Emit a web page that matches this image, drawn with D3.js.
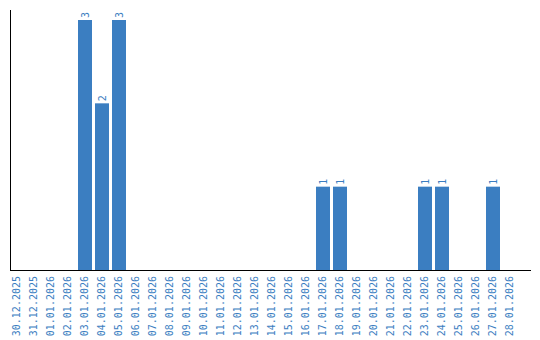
<!DOCTYPE html>
<html><head><meta charset="utf-8">
<script src="https://cdn.jsdelivr.net/npm/d3@7"></script>
<style>body{margin:0;background:#fff}svg{display:block}</style>
</head><body>
<script>
const dates = ["30.12.2025","31.12.2025","01.01.2026","02.01.2026","03.01.2026","04.01.2026","05.01.2026","06.01.2026","07.01.2026","08.01.2026","09.01.2026","10.01.2026","11.01.2026","12.01.2026","13.01.2026","14.01.2026","15.01.2026","16.01.2026","17.01.2026","18.01.2026","19.01.2026","20.01.2026","21.01.2026","22.01.2026","23.01.2026","24.01.2026","25.01.2026","26.01.2026","27.01.2026","28.01.2026"];
const counts = [0,0,0,0,3,2,3,0,0,0,0,0,0,0,0,0,0,0,1,1,0,0,0,0,1,1,0,0,1,0];

const W = 540, H = 340;
const svg = d3.select("body").append("svg").attr("width", W).attr("height", H);
const color = "#3b7ec1";
const font = "DejaVu Sans Mono, monospace";

const x = d3.scaleBand().domain(dates).range([8.5, 518.5]).paddingInner(3/17).paddingOuter(1.5/17);
const y = d3.scaleLinear().domain([0, 3]).range([270, 20]);

const data = dates.map((d, i) => ({date: d, v: counts[i]}));

svg.selectAll("rect.bar").data(data.filter(d => d.v > 0)).enter().append("rect")
  .attr("x", d => x(d.date)).attr("width", x.bandwidth())
  .attr("y", d => y(d.v)).attr("height", d => y(0) - y(d.v))
  .attr("fill", color);

svg.selectAll("text.val").data(data.filter(d => d.v > 0)).enter().append("text")
  .attr("transform", d => `translate(${x(d.date) + x.bandwidth()/2},${y(d.v) - 2}) rotate(-90)`)
  .attr("dy", "0.35em").attr("text-anchor", "start")
  .attr("font-family", font).attr("font-size", 10).attr("fill", color)
  .text(d => d.v);

// axes
svg.append("line").attr("x1", 10.5).attr("x2", 10.5).attr("y1", 10).attr("y2", 270).attr("stroke", "#000");
svg.append("line").attr("x1", 10).attr("x2", 531).attr("y1", 270.5).attr("y2", 270.5).attr("stroke", "#000");

svg.selectAll("text.tick").data(dates).enter().append("text")
  .attr("transform", d => `translate(${x(d) + x.bandwidth()/2 - 1},276) rotate(-90)`)
  .attr("dy", "0.35em").attr("text-anchor", "end")
  .attr("font-family", font).attr("font-size", 10).attr("fill", color)
  .text(d => d);
</script>
</body></html>
